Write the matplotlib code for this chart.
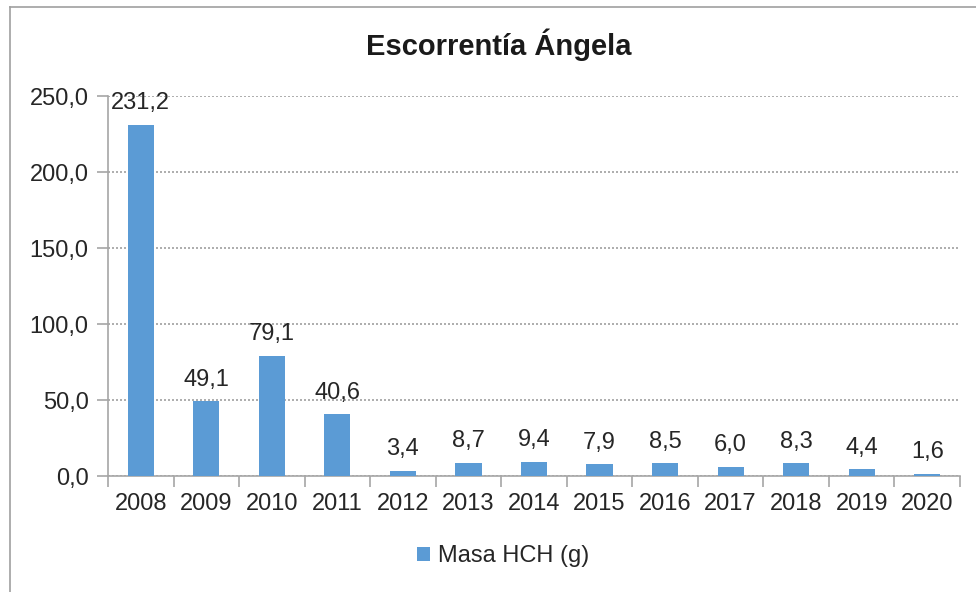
import matplotlib
matplotlib.use("Agg")
import matplotlib.pyplot as plt
from matplotlib.lines import Line2D
from matplotlib.patches import Patch
import numpy as np

plt.rcParams['font.family'] = ['Liberation Sans', 'DejaVu Sans']

# Data
years = ["2008", "2009", "2010", "2011", "2012", "2013", "2014",
         "2015", "2016", "2017", "2018", "2019", "2020"]
masa_hch = [231.2, 49.1, 79.1, 40.6, 3.4, 8.7, 9.4, 7.9, 8.5, 6.0, 8.3, 4.4, 1.6]
title = "Escorrentía Ángela"
series_name = "Masa HCH (g)"
yticks = [0, 50, 100, 150, 200, 250]

bar_color = "#5b9bd5"
axis_color = "#a6a6a6"
text_color = "#262626"
fs = 17

fig = plt.figure(figsize=(9.76, 5.92), dpi=100)
ax = fig.add_axes([108 / 976, 116 / 592, 852 / 976, 380 / 592])

x = np.arange(len(years))
ax.bar(x, masa_hch, width=0.4, color=bar_color, zorder=3)

# Data labels above each bar
for xi, v in zip(x, masa_hch):
    ax.annotate(f"{v:.1f}".replace(".", ","), (xi, v), xytext=(0, 7.5),
                textcoords="offset points", ha="center", va="bottom",
                fontsize=fs, color=text_color, zorder=4)

ax.set_xlim(-0.5, len(years) - 0.5)
ax.set_ylim(0, 250)
ax.set_yticks(yticks)
ax.set_yticklabels([f"{t:.1f}".replace(".", ",") for t in yticks])
ax.set_xticks(x)
ax.set_xticklabels(years)
ax.set_xticks(np.arange(len(years) + 1) - 0.5, minor=True)

ax.tick_params(axis="x", which="major", length=0, pad=12, labelsize=fs,
               labelcolor=text_color)
ax.tick_params(axis="x", which="minor", length=8, width=1.2, color=axis_color,
               direction="out")
ax.tick_params(axis="y", length=8, width=1.2, color=axis_color, pad=6,
               labelsize=fs, labelcolor=text_color)

ax.grid(axis="y", linestyle=(0, (1.2, 1.2)), color="#a0a0a0", linewidth=1.2,
        zorder=0)
for side in ("top", "right"):
    ax.spines[side].set_visible(False)
for side in ("left", "bottom"):
    ax.spines[side].set_color(axis_color)
    ax.spines[side].set_linewidth(1.2)

fig.text(499 / 976, 1 - 45 / 592, title, ha="center", va="center",
         fontsize=21, fontweight="bold", color="#1a1a1a")

handle = Patch(facecolor=bar_color, edgecolor="none")
fig.legend([handle], [series_name], loc="center",
           bbox_to_anchor=(503 / 976, 1 - 556 / 592), frameon=False,
           fontsize=fs, handlelength=0.55, handleheight=0.55,
           handletextpad=0.35, labelcolor=text_color)

# Outer chart border (left and top edges visible)
fig.add_artist(Line2D([10 / 976, 10 / 976], [0, 1 - 7 / 592],
                      transform=fig.transFigure, color="#a0a0a0", linewidth=1.2))
fig.add_artist(Line2D([10 / 976, 1], [1 - 7 / 592, 1 - 7 / 592],
                      transform=fig.transFigure, color="#a0a0a0", linewidth=1.2))

fig.savefig("out.png", dpi=100)
